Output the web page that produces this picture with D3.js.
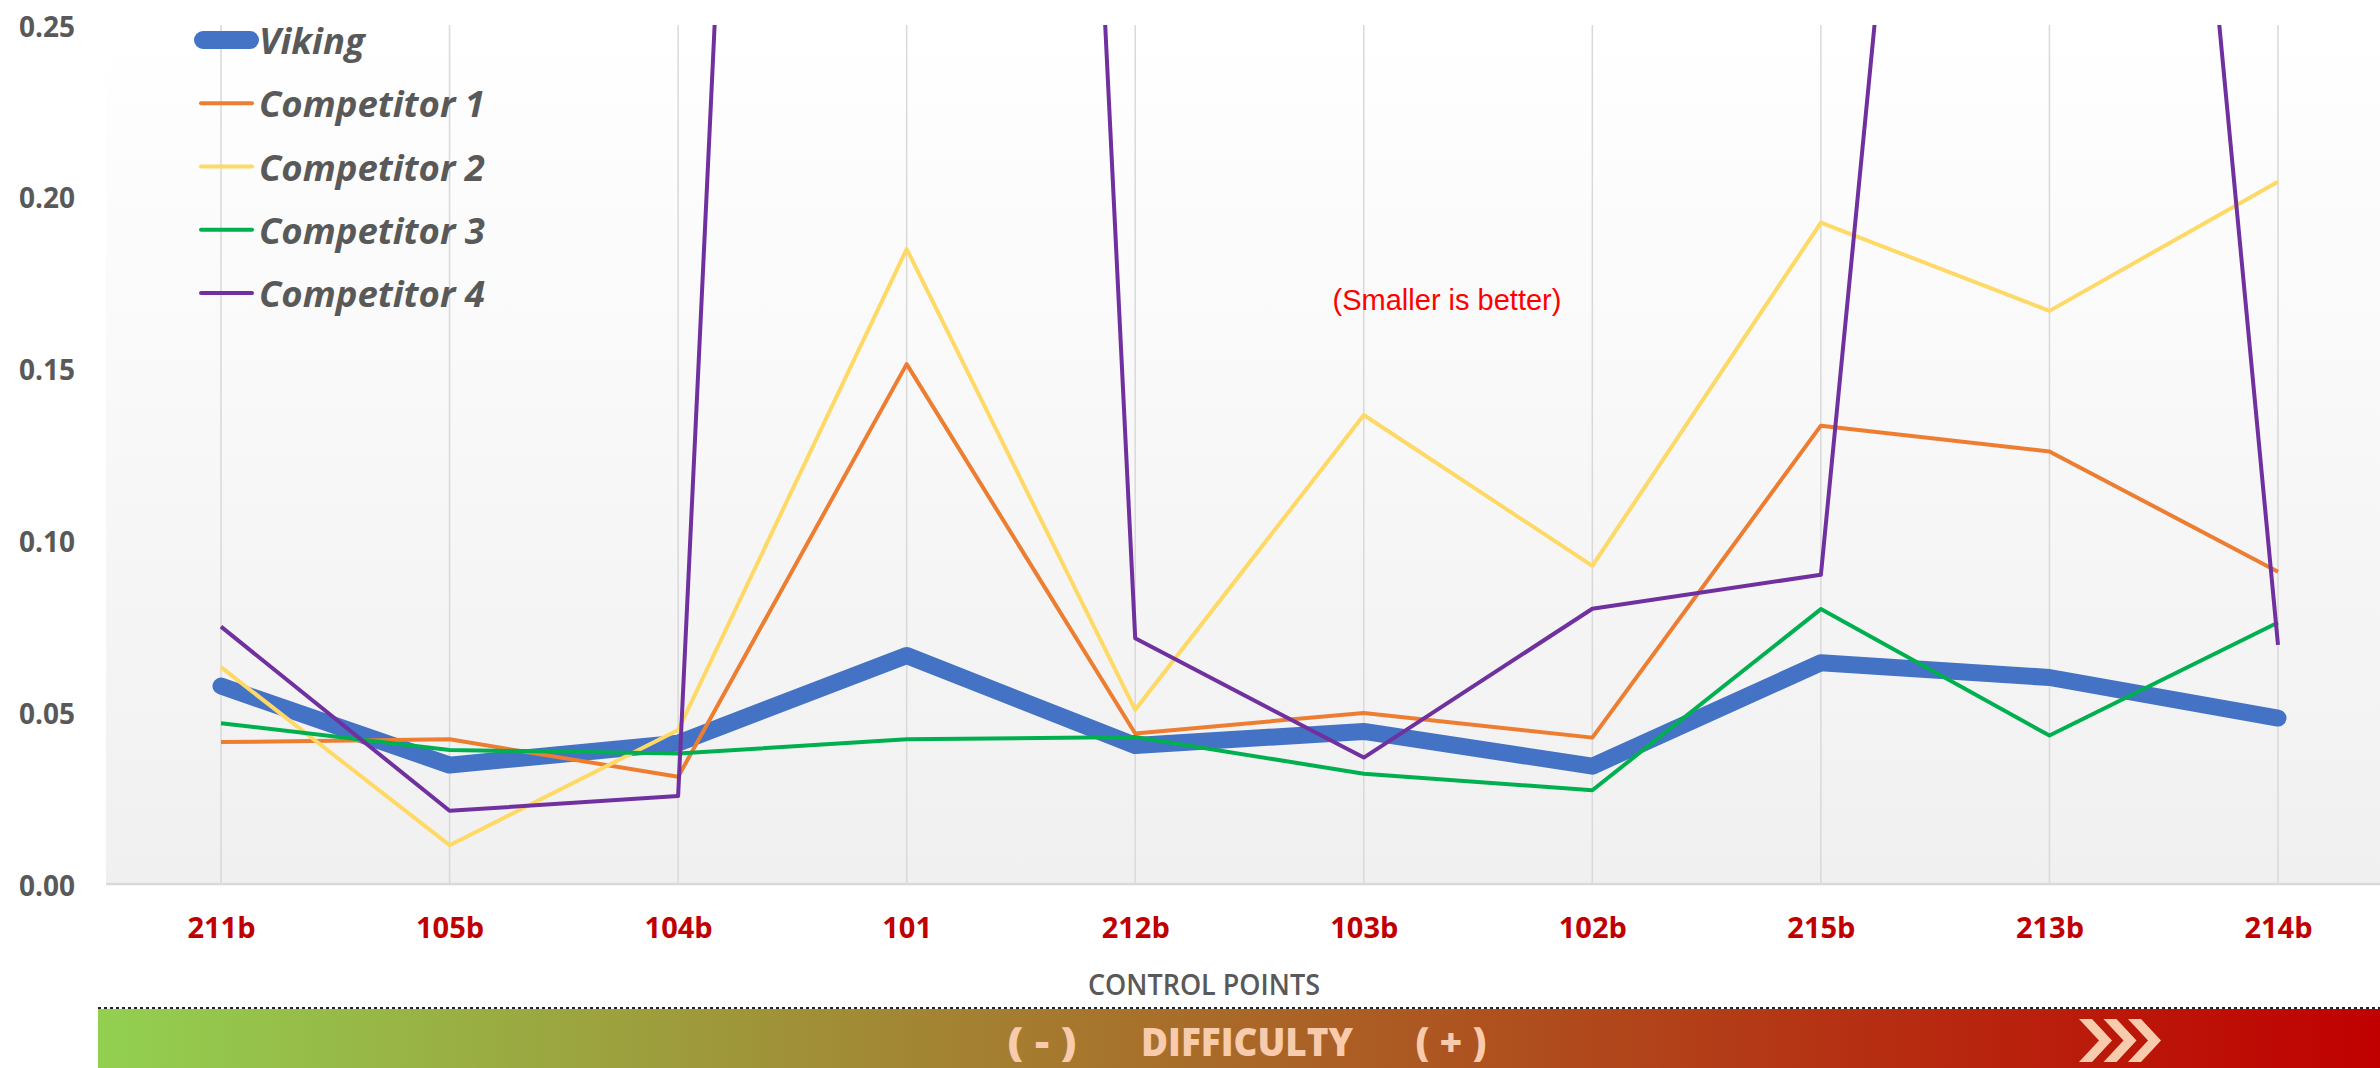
<!DOCTYPE html>
<html>
<head>
<meta charset="utf-8">
<script src="https://cdn.jsdelivr.net/npm/d3@7"></script>
<style>
  html, body { margin: 0; padding: 0; background: #ffffff; overflow: hidden; }
</style>
</head>
<body>
<script>
// DATA
var controlPoints = ["211b", "105b", "104b", "101", "212b", "103b", "102b", "215b", "213b", "214b"];
var seriesNames = ["Viking", "Competitor 1", "Competitor 2", "Competitor 3", "Competitor 4"];
var viking = [0.0576, 0.0346, 0.0410, 0.0665, 0.0403, 0.0444, 0.0343, 0.0644, 0.0601, 0.0483];
var competitor1 = [0.0413, 0.0421, 0.0312, 0.1513, 0.0438, 0.0498, 0.0426, 0.1334, 0.1259, 0.0909];
var competitor2 = [0.0631, 0.0113, 0.0448, 0.1848, 0.0507, 0.1365, 0.0926, 0.1925, 0.1668, 0.2044];
var competitor3 = [0.0468, 0.0390, 0.0380, 0.0421, 0.0428, 0.0321, 0.0273, 0.0800, 0.0432, 0.0761];
var competitor4 = [0.0749, 0.0213, 0.0256, 1.43, 0.0715, 0.0368, 0.0801, 0.0900, 0.772, 0.0696];
var yTicks = [0, 0.05, 0.10, 0.15, 0.20, 0.25];

var allSeries = [viking, competitor1, competitor2, competitor3, competitor4];
var colours = ["#4472c4", "#ed7d31", "#ffd966", "#00b050", "#7030a0"];
var widths = [17, 4, 4, 4, 4];

var W = 2380, H = 1068;
var plotLeft = 106, plotRight = 2392, plotTop = 25, plotBottom = 884;

var svg = d3.select("body").append("svg")
  .attr("width", W).attr("height", H)
  .style("display", "block");

var defs = svg.append("defs");

// plot background gradient
var bg = defs.append("linearGradient").attr("id", "plotBg")
  .attr("x1", 0).attr("y1", 0).attr("x2", 0).attr("y2", 1);
bg.append("stop").attr("offset", "0%").attr("stop-color", "#ffffff");
bg.append("stop").attr("offset", "100%").attr("stop-color", "#f0f0f0");

// difficulty bar gradient
var dg = defs.append("linearGradient").attr("id", "diffBg")
  .attr("x1", 0).attr("y1", 0).attr("x2", 1).attr("y2", 0);
dg.append("stop").attr("offset", "0%").attr("stop-color", "#92d050");
dg.append("stop").attr("offset", "100%").attr("stop-color", "#c00000");

defs.append("clipPath").attr("id", "plotClip")
  .append("rect")
  .attr("x", plotLeft).attr("y", plotTop)
  .attr("width", plotRight - plotLeft).attr("height", plotBottom - plotTop);

var x = d3.scalePoint().domain(controlPoints).range([221, 2278]);
var y = d3.scaleLinear().domain([0, 0.25]).range([plotBottom, plotTop]);

// plot area
svg.append("rect")
  .attr("x", plotLeft).attr("y", plotTop)
  .attr("width", plotRight - plotLeft).attr("height", plotBottom - plotTop)
  .attr("fill", "url(#plotBg)");

// vertical gridlines
svg.selectAll("line.grid").data(controlPoints).enter().append("line")
  .attr("class", "grid")
  .attr("x1", d => x(d)).attr("x2", d => x(d))
  .attr("y1", plotTop).attr("y2", plotBottom)
  .attr("stroke", "#d9d9d9").attr("stroke-width", 1.5);

// x axis
var xAxis = svg.append("g")
  .attr("transform", "translate(0," + plotBottom + ")")
  .call(d3.axisBottom(x).tickSize(0));
xAxis.select(".domain").remove();
xAxis.append("line")
  .attr("x1", plotLeft).attr("x2", plotRight)
  .attr("stroke", "#d9d9d9").attr("stroke-width", 2.5);
xAxis.selectAll("text")
  .attr("y", 42).attr("dy", null)
  .attr("dominant-baseline", "central")
  .attr("fill", "#c00000")
  .attr("font-family", "'Open Sans', sans-serif")
  .attr("font-weight", "700")
  .attr("font-size", "29px");

// y axis
var yAxis = svg.append("g")
  .attr("transform", "translate(" + plotLeft + ",0)")
  .call(d3.axisLeft(y).tickValues(yTicks).tickFormat(d3.format(".2f")).tickSize(0).tickPadding(31));
yAxis.select(".domain").remove();
yAxis.selectAll("text")
  .attr("dy", null)
  .attr("dominant-baseline", "central")
  .attr("fill", "#595959")
  .attr("font-family", "'Open Sans', sans-serif")
  .attr("font-weight", "700")
  .attr("font-size", "28px");

// lines
var line = d3.line()
  .x((d, i) => x(controlPoints[i]))
  .y(d => y(d));

var lines = svg.append("g").attr("clip-path", "url(#plotClip)");
lines.selectAll("path.series").data(allSeries).enter().append("path")
  .attr("class", "series")
  .attr("d", d => line(d))
  .attr("fill", "none")
  .attr("stroke", (d, i) => colours[i])
  .attr("stroke-width", (d, i) => widths[i])
  .attr("stroke-linejoin", "round")
  .attr("stroke-linecap", (d, i) => i == 0 ? "round" : "butt");

// legend
var legend = svg.append("g");
var legY = d3.scalePoint().domain(seriesNames).range([40, 293]);
legend.selectAll("line.leg").data(seriesNames).enter().append("line")
  .attr("class", "leg")
  .attr("x1", (d, i) => i == 0 ? 203 : 201)
  .attr("x2", (d, i) => i == 0 ? 250 : 252)
  .attr("y1", d => legY(d)).attr("y2", d => legY(d))
  .attr("stroke", (d, i) => colours[i])
  .attr("stroke-width", (d, i) => i == 0 ? 18 : 4)
  .attr("stroke-linecap", "round");
legend.selectAll("text.leg").data(seriesNames).enter().append("text")
  .attr("class", "leg")
  .text(d => d)
  .attr("x", 259)
  .attr("y", d => legY(d))
  .attr("dominant-baseline", "central")
  .attr("fill", "#595959")
  .attr("font-family", "'Open Sans', sans-serif")
  .attr("font-weight", "700")
  .attr("font-style", "italic")
  .attr("font-size", "36.5px");

// note
svg.append("text")
  .text("(Smaller is better)")
  .attr("x", 1447).attr("y", 300)
  .attr("text-anchor", "middle")
  .attr("dominant-baseline", "central")
  .attr("fill", "#ff0000")
  .attr("font-family", "'Liberation Sans', Arial, sans-serif")
  .attr("font-size", "29px");

// axis title
svg.append("text")
  .text("CONTROL POINTS")
  .attr("x", 1204).attr("y", 983)
  .attr("text-anchor", "middle")
  .attr("dominant-baseline", "central")
  .attr("fill", "#595959")
  .attr("font-family", "'Open Sans', sans-serif")
  .attr("font-weight", "600")
  .attr("font-size", "29px")
  .attr("textLength", 232)
  .attr("lengthAdjust", "spacingAndGlyphs");

// difficulty bar
svg.append("rect")
  .attr("x", 98).attr("y", 1009)
  .attr("width", W - 98).attr("height", H - 1009)
  .attr("fill", "url(#diffBg)");
svg.append("line")
  .attr("x1", 98).attr("x2", W)
  .attr("y1", 1008).attr("y2", 1008)
  .attr("stroke", "#222").attr("stroke-width", 2)
  .attr("stroke-dasharray", "3,3");

var barTexts = [{t: "( - )", x: 1042, w: 69}, {t: "DIFFICULTY", x: 1247, w: 212}, {t: "( + )", x: 1451, w: 71}];
svg.selectAll("text.bar").data(barTexts).enter().append("text")
  .attr("class", "bar")
  .text(d => d.t)
  .attr("x", d => d.x).attr("y", 1040)
  .attr("text-anchor", "middle")
  .attr("dominant-baseline", "central")
  .attr("fill", "#f8cbad")
  .attr("font-family", "'Open Sans', sans-serif")
  .attr("font-weight", "800")
  .attr("font-size", "39px")
  .attr("textLength", d => d.w)
  .attr("lengthAdjust", "spacingAndGlyphs");

// chevrons
var chev = [[0, 0], [13, 0], [33, 21.5], [13, 43], [0, 43], [20, 21.5]];
svg.selectAll("polygon.chev").data([0, 1, 2]).enter().append("polygon")
  .attr("class", "chev")
  .attr("points", chev.map(p => p.join(",")).join(" "))
  .attr("transform", d => "translate(" + (2079 + d * 24.5) + ",1019)")
  .attr("fill", "#f8cbad");
</script>
</body>
</html>
